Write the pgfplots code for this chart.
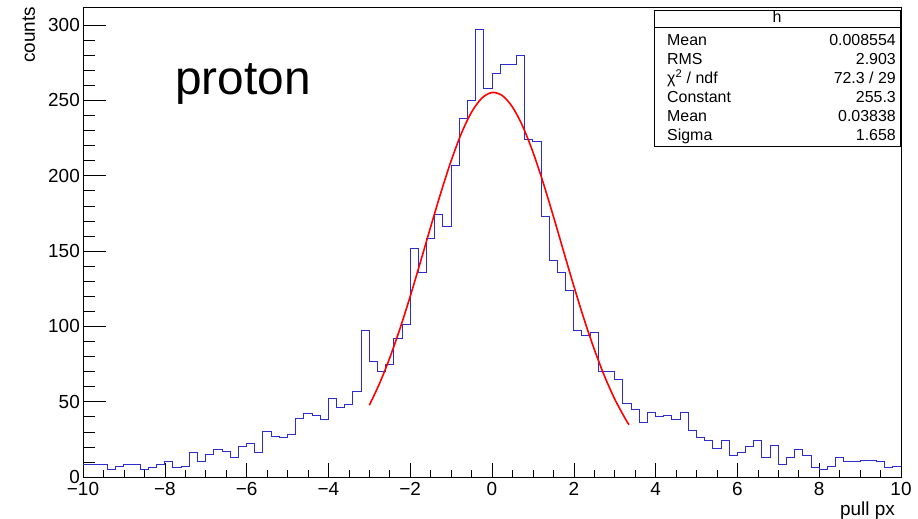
\documentclass[border=0pt]{standalone}
\usepackage{pgfplots}
\pgfplotsset{compat=1.18}
\usepackage{fontspec}
\setmainfont{Liberation Sans}
\definecolor{histblue}{RGB}{45,45,205}
\begin{document}
\begin{tikzpicture}
\begin{axis}[name=ax, scale only axis, width=818bp, height=470bp,
  xmin=-10, xmax=10, ymin=0, ymax=312,
  xtick={-10,-8,-6,-4,-2,0,2,4,6,8,10},
  xticklabels={−10,−8,−6,−4,−2,0,2,4,6,8,10},
  ytick={0,50,100,150,200,250,300},
  minor x tick num=3, minor y tick num=4,
  tick align=inside, xtick pos=left, ytick pos=left,
  major tick length=16bp, minor tick length=8bp,
  x tick style={/pgfplots/major tick length=14bp, /pgfplots/minor tick length=7bp},
  y tick style={/pgfplots/major tick length=23bp, /pgfplots/minor tick length=12bp},
  tick style={black, line width=0.6pt},
  axis line style={line width=0.7pt},
  /pgf/number format/assume math mode=true,
  tick label style={font=\fontsize{19}{22}\selectfont},
  xticklabel style={inner sep=0pt, yshift=-5bp},
  yticklabel style={inner sep=0pt, xshift=-3bp},
]
\addplot[const plot, histblue, line width=1bp] table {
x y
-10.0 8
-9.8 8
-9.6 8
-9.4 5
-9.2 7
-9.0 8
-8.8 8
-8.6 5
-8.4 6
-8.2 8
-8.0 10
-7.8 6
-7.6 7
-7.4 16
-7.2 10
-7.0 15
-6.8 18
-6.6 17
-6.4 13
-6.2 20
-6.0 22
-5.8 16
-5.6 30
-5.4 27
-5.2 26
-5.0 28
-4.8 39
-4.6 42
-4.4 41
-4.2 38
-4.0 52
-3.8 46
-3.6 48
-3.4 57
-3.2 97
-3.0 77
-2.8 70
-2.6 75
-2.4 92
-2.2 101
-2.0 152
-1.8 136
-1.6 158
-1.4 174
-1.2 166
-1.0 207
-0.8 238
-0.6 250
-0.4 297
-0.2 258
0.0 268
0.2 274
0.4 274
0.6 280
0.8 224
1.0 223
1.2 173
1.4 144
1.6 136
1.8 124
2.0 97
2.2 94
2.4 96
2.6 70
2.8 70
3.0 65
3.2 49
3.4 45
3.6 36
3.8 43
4.0 40
4.2 41
4.4 38
4.6 43
4.8 31
5.0 26
5.2 24
5.4 19
5.6 24
5.8 14
6.0 16
6.2 20
6.4 24
6.6 13
6.8 21
7.0 8
7.2 13
7.4 18
7.6 14
7.8 6
8.0 5
8.2 7
8.4 13
8.6 10
8.8 10
9.0 11
9.2 11
9.4 10
9.6 6
9.8 7
10.0 7
};
\addplot[red, line width=1.6pt, smooth] coordinates {
(-3.0,47.62) (-2.75,62.07) (-2.5,79.08) (-2.25,98.49) (-2.0,119.90)
(-1.75,142.70) (-1.5,166.00) (-1.25,188.76) (-1.0,209.83) (-0.75,228.01)
(-0.5,242.19) (-0.25,251.47) (0.0,255.23) (0.25,253.23) (0.5,245.60)
(0.75,232.84) (1.0,215.78) (1.25,195.47) (1.5,173.10) (1.75,149.85)
(2.0,126.79) (2.25,104.88) (2.5,84.80) (2.75,67.03) (3.0,51.79)
(3.25,39.11) (3.35,34.73)
};
\end{axis}
\node[font=\fontsize{19}{22}\selectfont, rotate=90, anchor=base east, inner sep=0pt] at ([xshift=-48bp]ax.north west) {counts};
\node[font=\fontsize{19}{22}\selectfont, anchor=base east, inner sep=0pt] at ([xshift=-6bp,yshift=-38bp]ax.south east) {pull px};
\node[font=\fontsize{48}{52}\selectfont, anchor=base west, inner sep=0pt] at ([xshift=92bp,yshift=-88bp]ax.north west) {proton};
% stats box
\draw[line width=0.7pt, fill=white] ([xshift=-247bp,yshift=-3bp]ax.north east) rectangle ([xshift=-1bp,yshift=-139bp]ax.north east);
\draw[line width=0.7pt] ([xshift=-247bp,yshift=-20bp]ax.north east) -- ([xshift=-1bp,yshift=-20bp]ax.north east);
\begin{scope}[every node/.style={font=\fontsize{16}{18}\selectfont, inner sep=0pt}]
\node[anchor=base] at ([xshift=-124bp,yshift=-16bp]ax.north east) {h};
\node[anchor=base west] at ([xshift=-234bp,yshift=-38.5bp]ax.north east) {Mean};
\node[anchor=base east] at ([xshift=-5bp,yshift=-38.5bp]ax.north east) {0.008554};
\node[anchor=base west] at ([xshift=-234bp,yshift=-57.5bp]ax.north east) {RMS};
\node[anchor=base east] at ([xshift=-5bp,yshift=-57.5bp]ax.north east) {2.903};
\node[anchor=base west] at ([xshift=-234bp,yshift=-76.5bp]ax.north east) {χ\textsuperscript{2} / ndf};
\node[anchor=base east] at ([xshift=-5bp,yshift=-76.5bp]ax.north east) {72.3 / 29};
\node[anchor=base west] at ([xshift=-234bp,yshift=-95.5bp]ax.north east) {Constant};
\node[anchor=base east] at ([xshift=-5bp,yshift=-95.5bp]ax.north east) {255.3};
\node[anchor=base west] at ([xshift=-234bp,yshift=-114.5bp]ax.north east) {Mean};
\node[anchor=base east] at ([xshift=-5bp,yshift=-114.5bp]ax.north east) {0.03838};
\node[anchor=base west] at ([xshift=-234bp,yshift=-133.5bp]ax.north east) {Sigma};
\node[anchor=base east] at ([xshift=-5bp,yshift=-133.5bp]ax.north east) {1.658};
\end{scope}
\pgfresetboundingbox
\path[use as bounding box] ([xshift=-83bp,yshift=-42bp]ax.south west) rectangle ([xshift=17bp,yshift=7bp]ax.north east);
\end{tikzpicture}
\end{document}
